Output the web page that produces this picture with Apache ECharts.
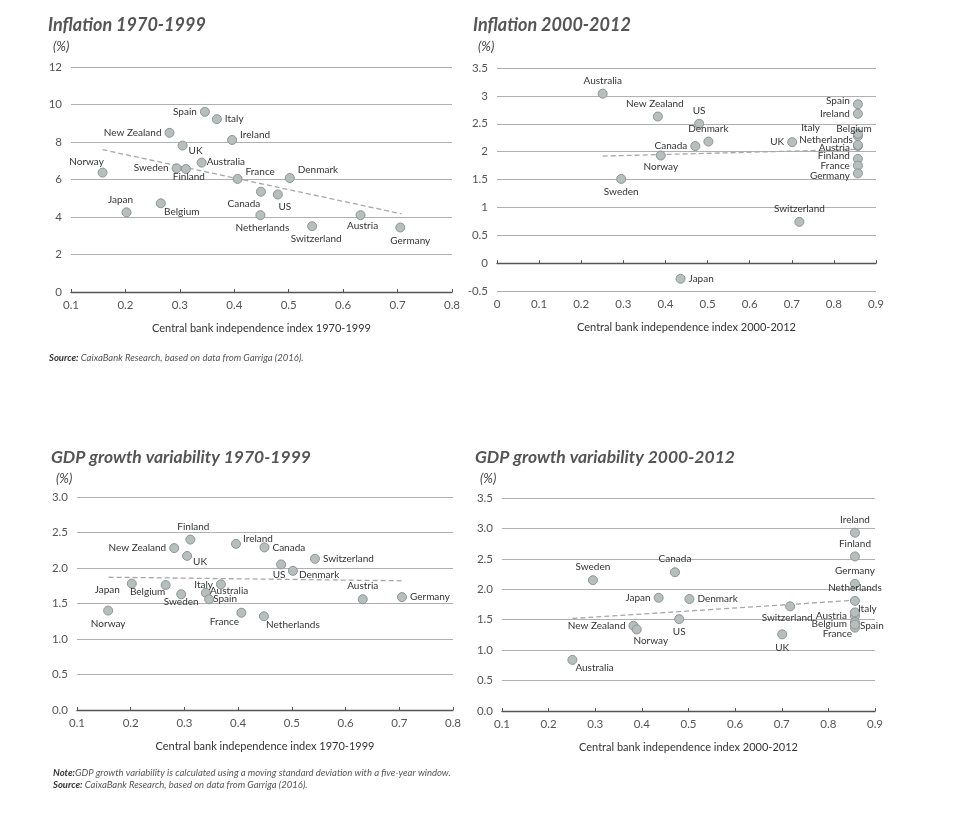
<!DOCTYPE html>
<html><head><meta charset="utf-8">
<script src="https://cdn.jsdelivr.net/npm/echarts@6/dist/echarts.min.js"></script>
<style>html,body{margin:0;padding:0;background:#fff}#c{width:953px;height:825px}</style>
</head><body><div id="c"></div>
<script>
// ---- data ----
const countries = ['Australia','Austria','Belgium','Canada','Denmark','Finland','France','Germany','Ireland','Italy','Japan','Netherlands','New Zealand','Norway','Spain','Sweden','Switzerland','UK','US'];
const cbi7099 = [0.340,0.632,0.265,0.449,0.502,0.311,0.406,0.705,0.396,0.368,0.202,0.448,0.281,0.158,0.346,0.294,0.543,0.305,0.480];
const cbi0012 = [0.251,0.857,0.857,0.471,0.502,0.857,0.857,0.857,0.857,0.857,0.436,0.857,0.382,0.389,0.857,0.295,0.718,0.701,0.480];
const inflation7099 = [6.90,4.10,4.73,5.35,6.08,6.56,6.03,3.44,8.11,9.22,4.25,4.10,8.49,6.37,9.61,6.60,3.51,7.81,5.20];
const inflation0012 = [3.04,2.10,2.28,2.10,2.18,1.87,1.75,1.61,2.68,2.32,-0.28,2.12,2.63,1.93,2.85,1.51,0.74,2.17,2.50];
const gdpVar7099 = [1.65,1.56,1.76,2.29,1.96,2.40,1.37,1.59,2.34,1.77,1.78,1.32,2.28,1.40,1.56,1.63,2.13,2.17,2.05];
const gdpVar0012 = [0.84,1.56,1.46,2.28,1.84,2.54,1.37,2.09,2.93,1.62,1.86,1.81,1.40,1.34,1.42,2.15,1.72,1.26,1.51];
const trendInfl7099 = [[0.158,7.59],[0.707,4.17]];
const trendInfl0012 = [[0.251,1.92],[0.857,2.04]];
const trendGdp7099 = [[0.159,1.87],[0.705,1.82]];
const trendGdp0012 = [[0.251,1.52],[0.857,1.82]];
const titles = ['Inflation 1970-1999','Inflation 2000-2012','GDP growth variability 1970-1999','GDP growth variability 2000-2012'];
const axisNames = ['Central bank independence index 1970-1999','Central bank independence index 2000-2012','Central bank independence index 1970-1999','Central bank independence index 2000-2012'];

// ---- label placement (style) ----
const place = [
 {'Spain':['left',0,0],'Italy':['right',0,0],'New Zealand':['left',0,0],'Ireland':['right',0,-5],'UK':['right',-2,5],
  'Norway':['top',-16,2],'Sweden':['left',0,0],'Finland':['bottom',3,-5],'Australia':['right',-3,-1],'France':['right',0,-7],
  'Denmark':['right',0,-8],'Canada':['bottom',-17,-1],'US':['bottom',7,-1],'Japan':['top',-6,0],'Belgium':['bottom',21,-5],
  'Netherlands':['bottom',2,0],'Switzerland':['bottom',4,0],'Austria':['bottom',2,-2],'Germany':['bottom',10,0]},
 {'Australia':['top',0,0],'New Zealand':['top',-3,0],'US':['top',0,0],'Denmark':['top',0,0],'Canada':['left',0,0],'UK':['left',0,0],
  'Spain':['left',0,-3],'Ireland':['left',0,0],'Italy':['left',-30,-6],'Belgium':['top',-4,6],'Netherlands':['left',3,-5],'Austria':['left',0,2],
  'Finland':['left',0,-3],'France':['left',0,0],'Germany':['left',0,2],'Norway':['bottom',0,-2],'Sweden':['bottom',0,0],
  'Switzerland':['top',0,0],'Japan':['right',0,0]},
 {'Finland':['top',3,0],'New Zealand':['left',0,0],'UK':['right',-2,6],'Ireland':['right',-1,-5],'Canada':['right',0,0],
  'Switzerland':['right',0,0],'US':['bottom',-2,-3],'Denmark':['right',-2,4],'Japan':['left',-4,6],'Belgium':['bottom',-18,-6],
  'Italy':['left',0,0],'Australia':['right',-4,-2],'Sweden':['bottom',0,-5],'Spain':['right',-4,0],'Norway':['bottom',0,0],
  'France':['bottom',-17,-4],'Netherlands':['bottom',29,-4],'Austria':['top',0,0],'Germany':['right',0,0]},
 {'Ireland':['top',0,0],'Finland':['top',0,0],'Germany':['top',0,0],'Netherlands':['top',0,0],'Sweden':['top',0,0],'Canada':['top',0,0],
  'Japan':['left',0,0],'Denmark':['right',0,0],'Switzerland':['bottom',-3,-2],'Italy':['right',-5,-4],'Austria':['left',0,0],
  'Belgium':['left',0,2],'Spain':['right',-3,1],'France':['left',5,6],'US':['bottom',0,0],'New Zealand':['left',0,0],
  'Norway':['bottom',14,-2],'UK':['bottom',0,0],'Australia':['right',-5,8]}
];

const TXT = '#333';
const AX = '#555';
const FONT = 'Lato, sans-serif';
const panels = [
 {x:cbi7099, y:inflation7099, trend:trendInfl7099, grid:{left:71,top:67,width:381,height:225}, xmin:0.1,xmax:0.8, ymin:0,ymax:12,yint:2, yfmt:v=>String(v)},
 {x:cbi0012, y:inflation0012, trend:trendInfl0012, grid:{left:497,top:68,width:379,height:223}, xmin:0,xmax:0.9, ymin:-0.5,ymax:3.5,yint:0.5, yfmt:v=>String(v)},
 {x:cbi7099, y:gdpVar7099, trend:trendGdp7099, grid:{left:77,top:497,width:376,height:213}, xmin:0.1,xmax:0.8, ymin:0,ymax:3,yint:0.5, yfmt:v=>v.toFixed(1)},
 {x:cbi0012, y:gdpVar0012, trend:trendGdp0012, grid:{left:502,top:498,width:373,height:213}, xmin:0.1,xmax:0.9, ymin:0,ymax:3.5,yint:0.5, yfmt:v=>v.toFixed(1)}
];

const grids=[], xAxes=[], yAxes=[], series=[];
panels.forEach((p,i)=>{
  grids.push(p.grid);
  xAxes.push({gridIndex:i, type:'value', min:p.xmin, max:p.xmax, interval:0.1, position:'bottom',
    name:axisNames[i], nameLocation:'middle', nameGap:31, nameTextStyle:{color:TXT,fontSize:11,fontFamily:FONT},
    axisLine:{show:false,onZero:false}, axisTick:{show:false}, splitLine:{show:false},
    axisLabel:{color:AX,fontSize:11.5,fontFamily:FONT,margin:7, formatter:v=> (Math.abs(v)<1e-9?'0':v.toFixed(1))}});
  yAxes.push({gridIndex:i, type:'value', min:p.ymin, max:p.ymax, interval:p.yint,
    axisLine:{show:false}, axisTick:{show:false},
    splitLine:{lineStyle:{color:'#b0b0b0',width:1}},
    axisLabel:{color:AX,fontSize:11.5,fontFamily:FONT,margin:9,formatter:p.yfmt}});
});
panels.forEach((p,i)=>{
  xAxes.push({gridIndex:i, type:'value', min:p.xmin, max:p.xmax, interval:0.1, position:'bottom',
    axisLine:{show:true,onZero:true,lineStyle:{color:'#555',width:1.3}}, axisTick:{show:true,inside:true,length:3,lineStyle:{color:'#555'}},
    axisLabel:{show:false}, splitLine:{show:false}});
});
panels.forEach((p,i)=>{
  series.push({type:'line', xAxisIndex:i, yAxisIndex:i, data:p.trend, symbol:'none', silent:true,
    lineStyle:{color:'#a8a8a8',width:1.3,type:[5,3]}, z:1});
  const data = countries.map((c,k)=>{
    const pl = place[i][c] || ['right',0,0];
    return {name:c, value:[p.x[k], p.y[k]], label:{position:pl[0], offset:[pl[1],pl[2]]}};
  });
  series.push({type:'scatter', xAxisIndex:i, yAxisIndex:i, data:data, symbolSize:9, z:3,
    itemStyle:{color:'#b6bebe',borderColor:'#8d9595',borderWidth:1,opacity:1},
    label:{show:true, formatter:'{b}', color:TXT, fontSize:10, fontFamily:FONT, distance:3}});
});

const tPos = [[43,11],[468,11],[46,443],[470,443]];
const title = [];
tPos.forEach((t,i)=>{
  title.push({text:titles[i], left:t[0], top:t[1], textStyle:{fontFamily:'Lato, sans-serif',fontStyle:'italic',fontWeight:'bold',fontSize:i<2?18:17.5,color:'#555'}});
  title.push({text:'(%)', left:t[0]+5, top:t[1]+24, textStyle:{fontFamily:FONT,fontStyle:'italic',fontWeight:'normal',fontSize:13,color:'#444'}});
});
const noteStyle = {fontFamily:FONT,fontStyle:'italic',fontWeight:'normal',fontSize:9.5,color:'#555',
  rich:{b:{fontFamily:FONT,fontStyle:'italic',fontWeight:'bold',fontSize:9.5,color:'#333'},n:{fontFamily:FONT,fontStyle:'italic',fontWeight:'normal',fontSize:9.5,color:'#555'}}};
title.push({text:'{b|Source:} {n|CaixaBank Research, based on data from Garriga (2016).}', left:44, top:348, textStyle:noteStyle});
title.push({text:'{b|Note:}{n|GDP growth variability is calculated using a moving standard deviation with a five-year window.}', left:48, top:763, textStyle:noteStyle});
title.push({text:'{b|Source:} {n|CaixaBank Research, based on data from Garriga (2016).}', left:48, top:775, textStyle:noteStyle});

const chart = echarts.init(document.getElementById('c'), null, {renderer:'canvas'});
chart.setOption({animation:false, backgroundColor:'#fff', title:title, grid:grids, xAxis:xAxes, yAxis:yAxes, series:series});
</script></body></html>
